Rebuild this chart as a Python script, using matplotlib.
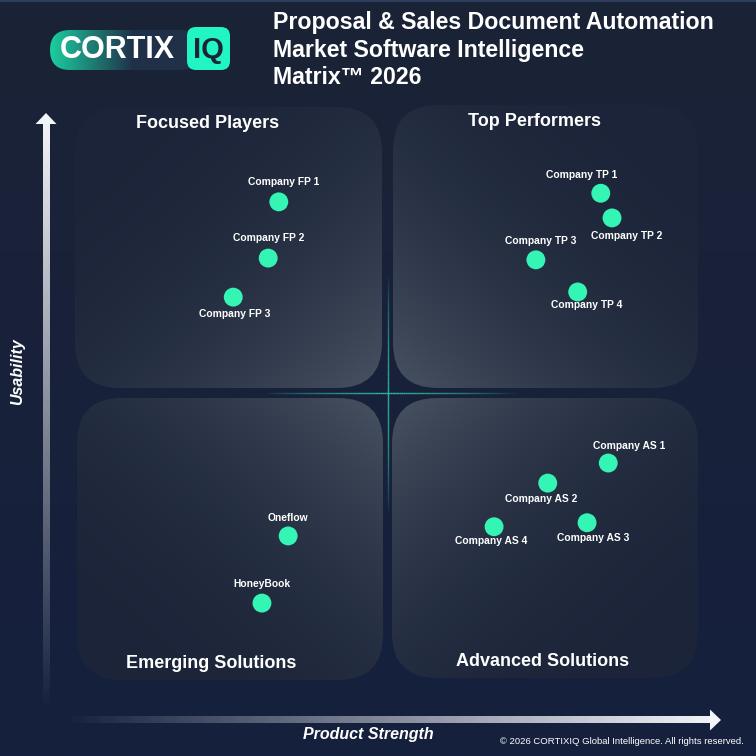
import numpy as np
import matplotlib
matplotlib.use('Agg')
import matplotlib.pyplot as plt
from matplotlib.patches import FancyBboxPatch, Polygon
from matplotlib.collections import LineCollection

plt.rcParams['font.family'] = ['Liberation Sans', 'DejaVu Sans']

## Data (0-10 scale on both axes, centre of matrix at 5)
companies = ['Company FP 1', 'Company FP 2', 'Company FP 3',
             'Company TP 1', 'Company TP 2', 'Company TP 3', 'Company TP 4',
             'Company AS 1', 'Company AS 2', 'Company AS 3', 'Company AS 4',
             'Oneflow', 'HoneyBook']
product_strength = [3.25, 3.08, 2.52, 8.41, 8.59, 7.37, 8.04,
                    8.53, 7.56, 8.19, 6.70, 3.40, 2.98]
usability = [8.33, 7.35, 6.67, 8.48, 8.05, 7.32, 6.76,
             3.78, 3.43, 2.74, 2.67, 2.51, 1.34]
quadrant_names = ['Focused Players', 'Top Performers',
                  'Emerging Solutions', 'Advanced Solutions']
title_lines = ['Proposal & Sales Document Automation',
               'Market Software Intelligence',
               'Matrix\u2122 2026']

## label offsets in pixels (right, down)
label_offsets = [(5, -20), (0, -20), (1, 17), (-19, -18), (15, 18), (5, -19),
                 (9, 13), (21, -17), (-7, 16), (6, 15), (-3, 14), (0, -18),
                 (0, -19)]

W = 756
PX = 0.72  # points per pixel at dpi 100

BG_TOP = (27, 35, 54)
BG_BOT = (21, 32, 62)
PANEL_DARK = (27, 36, 56)
PANEL_LIGHT = (72, 82, 98)
TEAL = '#34f5b4'


def mix(c1, c2, t):
    c1 = np.array(c1) / 255.0
    c2 = np.array(c2) / 255.0
    return c1 + (c2 - c1) * t[..., None]


def rounded(x0, y0, x1, y1, r, ax):
    p = FancyBboxPatch((x0, y0), x1 - x0, y1 - y0,
                       boxstyle='round,pad=0,rounding_size=%g' % r,
                       facecolor='none', edgecolor='none')
    ax.add_patch(p)
    return p


fig = plt.figure(figsize=(7.56, 7.56), dpi=100)
bg = fig.add_axes([0, 0, 1, 1])

## background
t = np.linspace(0, 1, 256)[:, None] * np.ones((1, 2))
bg.imshow(mix(BG_TOP, BG_BOT, t), extent=(0, W, W, 0), aspect='auto', zorder=0)
bg.plot([0, W], [0.8, 0.8], color='#2c3d5e', lw=1.5, zorder=1)

## quadrant panels, lighter toward the centre corner
panels = [(75, 107, 382, 388, 'br'), (393, 105, 698, 388, 'bl'),
          (77, 398, 383, 680, 'tr'), (392, 398, 698, 678, 'tl')]
n = 200
u = np.linspace(0, 1, n)[None, :] * np.ones((n, 1))
v = np.linspace(0, 1, n)[:, None] * np.ones((1, n))
for x0, y0, x1, y1, corner in panels:
    a = u if 'r' in corner else 1 - u
    b = v if 'b' in corner else 1 - v
    tt = ((a + b) / 2) ** 2.4
    im = bg.imshow(mix(PANEL_DARK, PANEL_LIGHT, tt), extent=(x0, x1, y1, y0),
                   aspect='auto', zorder=1, interpolation='bilinear')
    im.set_clip_path(rounded(x0, y0, x1, y1, 45, bg))

## crosshair
cx, cy = 388, 393
teal_rgb = np.array([0.18, 0.75, 0.62])
m = 120
xs = np.linspace(267, 520, m)
ys = np.linspace(273, 513, m)
hsegs = [[(xs[i], cy), (xs[i + 1], cy)] for i in range(m - 1)]
vsegs = [[(cx, ys[i]), (cx, ys[i + 1])] for i in range(m - 1)]
ha = np.clip(1 - (np.abs(xs[:-1] - cx) / 130.0) ** 1.5, 0, 1)
va_ = np.clip(1 - (np.abs(ys[:-1] - cy) / 122.0) ** 1.5, 0, 1)
hcol = np.column_stack([np.tile(teal_rgb, (m - 1, 1)), ha])
vcol = np.column_stack([np.tile(teal_rgb, (m - 1, 1)), va_])
bg.add_collection(LineCollection(hsegs, colors=hcol, linewidths=1.0, zorder=2))
bg.add_collection(LineCollection(vsegs, colors=vcol, linewidths=1.0, zorder=2))

## axis arrows with fading shafts
white = np.array([0.95, 0.96, 0.98])
s = np.linspace(0, 1, 300)
yimg = np.zeros((300, 2, 4))
yimg[..., :3] = white
yimg[..., 3] = (1 - s)[:, None] ** 1.0
bg.imshow(yimg, extent=(42.5, 49.5, 712, 123), aspect='auto', zorder=3)
bg.add_patch(Polygon([(46, 113), (35.5, 124), (56.5, 124)], closed=True,
                     facecolor=white, edgecolor='none', zorder=3))

ximg = np.zeros((2, 300, 4))
ximg[..., :3] = white
ximg[..., 3] = s[None, :] ** 1.0
bg.imshow(ximg, extent=(62, 711, 723.5, 716.5), aspect='auto', zorder=3)
bg.add_patch(Polygon([(721, 720), (710, 709.5), (710, 730.5)], closed=True,
                     facecolor=white, edgecolor='none', zorder=3))

## logo
lx = np.linspace(0, 1, 200)[None, :] * np.ones((2, 1))
pill = bg.imshow(mix((28, 205, 160), (32, 48, 72), np.clip(lx * 1.8, 0, 1)),
                 extent=(50, 200, 70, 30), aspect='auto', zorder=3,
                 interpolation='bilinear')
pill.set_clip_path(rounded(50, 30, 200, 70, 20, bg))
bg.add_patch(FancyBboxPatch((187, 27), 43, 43,
                            boxstyle='round,pad=0,rounding_size=9',
                            facecolor='#22f5c4', edgecolor='none', zorder=4))
bg.text(117, 50, 'CORTIX', color='white', fontsize=22, fontweight='bold',
        ha='center', va='center', zorder=5)
bg.text(208.5, 49.5, 'IQ', color='#1b2438', fontsize=21, fontweight='bold',
        ha='center', va='center', zorder=5)

## title
for i, line in enumerate(title_lines):
    bg.text(273, 22 + 28 * i, line, color='white', fontsize=16.7,
            fontweight='bold', ha='left', va='center', zorder=5)

## quadrant names
q_pos = [(208, 124), (535, 121), (211, 663), (543, 661)]
for name, (qx, qy) in zip(quadrant_names, q_pos):
    bg.text(qx, qy, name, color='white', fontsize=13, fontweight='bold',
            ha='center', va='center', zorder=5)

## axis titles and footer
bg.text(18, 372, 'Usability', color='white', fontsize=11.5, fontweight='bold',
        fontstyle='italic', rotation=90, ha='center', va='center', zorder=5)
bg.text(368, 734, 'Product Strength', color='white', fontsize=11.5,
        fontweight='bold', fontstyle='italic', ha='center', va='center', zorder=5)
bg.text(744, 742, '\u00a9 2026 CORTIXIQ Global Intelligence. All rights reserved.',
        color='white', fontsize=6.8, ha='right', va='center', zorder=5)

bg.set_xlim(0, W)
bg.set_ylim(W, 0)
bg.axis('off')

## data axes
ax = fig.add_axes([76 / W, (W - 680) / W, 624 / W, 574 / W])
ax.set_xlim(0, 10)
ax.set_ylim(0, 10)
ax.axis('off')
ax.scatter(product_strength, usability, s=185, color=TEAL, edgecolors='none',
           zorder=5)
for name, x, y, (dx, dy) in zip(companies, product_strength, usability,
                                label_offsets):
    ax.annotate(name, (x, y), xytext=(dx * PX, -dy * PX),
                textcoords='offset points', ha='center', va='center',
                fontsize=7.4, fontweight='bold', color='white', zorder=6)

fig.savefig('out.png', dpi=100)
